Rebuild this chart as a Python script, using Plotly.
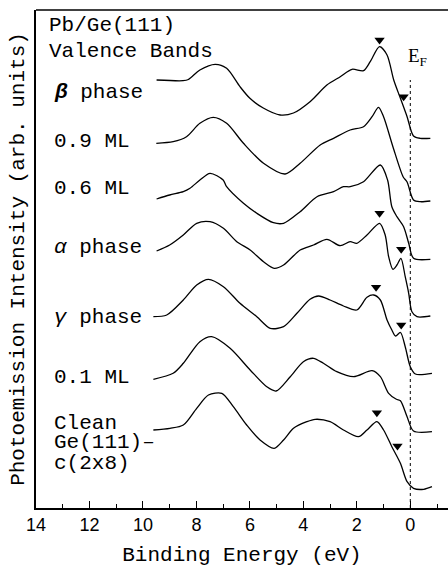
import plotly.graph_objects as go

# Binding energies (eV) and intensities (arb. units, offsets included)
e_beta = [9.49, 8.5, 8.3, 7.87, 7.3, 6.87, 6.37, 6.0, 5.5, 4.87, 4.37, 3.75, 3.12, 2.62, 2.18, 1.75, 1.5, 1.15, 0.87, 0.62, 0.37, 0.12, -0.12, -0.37, -0.75]
i_beta = [428, 427.3, 428.5, 438, 443.7, 439.7, 421.3, 409.7, 400, 393, 395, 406.3, 423, 431.3, 438.7, 437.3, 446.3, 461.3, 453, 428, 409.7, 391.3, 372, 369.7, 369.7]

e_09 = [9.5, 8.87, 8.37, 7.87, 7.37, 6.87, 6.24, 5.49, 4.68, 4.12, 3.37, 2.87, 2.25, 1.75, 1.43, 1.19, 1.0, 0.65, 0.27, 0.12, -0.12, -0.37, -0.75]
i_09 = [364.7, 366.3, 371.3, 384.7, 390.7, 384.7, 364.7, 344.7, 334, 344.7, 363, 369.7, 378, 381.3, 391.3, 400.7, 391.3, 361.3, 331.3, 326, 308, 306.3, 307]

e_06 = [9.49, 9.0, 8.49, 8.24, 7.87, 7.49, 7.0, 6.87, 6.24, 5.74, 5.12, 4.74, 4.12, 3.49, 2.87, 2.5, 2.25, 1.75, 1.12, 0.85, 0.69, 0.5, 0.25, 0.06, -0.12, -0.75]
i_06 = [309, 313, 316.3, 319.7, 328, 334.7, 328, 321.3, 304.7, 294.7, 285.3, 284.7, 296.3, 311.3, 316.3, 321.3, 321.3, 326.3, 343, 328, 301.3, 291.3, 281.3, 264.7, 249.7, 248.7]

e_alpha = [9.49, 9.0, 8.49, 7.99, 7.49, 6.99, 6.49, 5.99, 5.49, 5.09, 4.74, 4.12, 3.62, 3.12, 2.62, 2.25, 2.0, 1.62, 1.15, 0.94, 0.81, 0.65, 0.5, 0.35, 0.19, 0.06, -0.06, -0.25, -0.75]
i_alpha = [257, 263, 273, 284.7, 286.3, 279.7, 266.3, 258, 246.3, 239.7, 243, 258, 263, 268.7, 262.3, 266.3, 264.7, 273, 284.7, 273, 251.3, 238.7, 243, 249.7, 231.3, 214.7, 196.3, 191.3, 192]

e_gamma = [9.61, 9.11, 8.49, 7.99, 7.55, 6.99, 6.37, 5.74, 5.24, 4.74, 4.24, 3.75, 3.43, 3.0, 2.5, 2.0, 1.62, 1.37, 1.12, 0.87, 0.69, 0.55, 0.37, 0.19, 0.0, -0.19, -0.81]
i_gamma = [191.3, 193, 208, 223, 228.7, 221.3, 204.7, 191.3, 179.7, 181.3, 194.7, 208.7, 212, 208, 202, 198, 210.7, 213, 208, 188, 178, 172, 175.5, 161.3, 141.3, 134, 134.7]

e_01 = [9.61, 8.87, 8.49, 7.87, 7.43, 6.74, 5.99, 5.37, 5.02, 4.49, 4.0, 3.62, 3.25, 2.75, 2.12, 1.43, 1.12, 0.81, 0.52, 0.37, 0.12, -0.12, -0.81]
i_01 = [128.7, 134.7, 144.7, 166.3, 171.3, 159.7, 138, 121.3, 117, 131.3, 146.3, 149.7, 144.7, 136.3, 131.3, 137.3, 131.3, 114.7, 108.7, 107.3, 91.3, 77, 76.3]

e_clean = [9.61, 8.99, 8.49, 7.99, 7.55, 7.05, 6.62, 6.12, 5.62, 5.09, 4.74, 4.37, 3.87, 3.56, 3.0, 2.5, 1.94, 1.62, 1.25, 1.0, 0.69, 0.37, 0.12, -0.12, -0.5, -0.81]
i_clean = [78, 79.7, 83, 99.7, 113, 114.7, 101.3, 83, 68, 59.7, 68, 79.7, 86.3, 88.7, 86.3, 78, 71.3, 78, 86.3, 78, 61.3, 44.7, 26.3, 19.7, 18.7, 21.3]

# Feature markers (triangles)
tri_e = [1.15, 0.25, 1.15, 0.34, 1.28, 0.34, 1.25, 0.48]
tri_i = [468, 411.3, 294.7, 258.7, 220.7, 183, 95.3, 62]

x_ticks = [14, 12, 10, 8, 6, 4, 2, 0]

spectra = [(e_beta, i_beta), (e_09, i_09), (e_06, i_06), (e_alpha, i_alpha),
           (e_gamma, i_gamma), (e_01, i_01), (e_clean, i_clean)]

W, H = 448, 569
L, R, T, B = 36, 0, 10, 61
pw, ph = W - L - R, H - T - B

def px(x):
    return (x - L) / pw

def py(y):
    return (H - B - y) / ph

fig = go.Figure()
for e, i in spectra:
    fig.add_trace(go.Scatter(x=e, y=i, mode="lines",
                             line=dict(color="black", width=1.3, shape="spline", smoothing=0.8),
                             showlegend=False, hoverinfo="skip"))

fig.add_trace(go.Scatter(x=tri_e, y=tri_i, mode="markers",
                         marker=dict(symbol="triangle-down", size=9, color="black"),
                         showlegend=False, hoverinfo="skip"))

# E_F dotted line
fig.add_shape(type="line", xref="x", yref="y", x0=0, x1=0, y0=0, y1=428,
              line=dict(color="black", width=1, dash="dot"))

mono = "Liberation Mono"
fs = 21
labels = [
    ("Pb/Ge(111)", 47, 25),
    ("Valence Bands", 47, 51),
    ("<b><i>β</i></b> phase", 52, 92),
    ("0.9 ML", 52, 142),
    ("0.6 ML", 52, 188),
    ("<i>α</i> phase", 52, 247),
    ("<i>γ</i> phase", 52, 317),
    ("0.1 ML", 52, 377),
    ("Clean", 52, 423),
    ("Ge(111)–", 52, 443),
    ("c(2x8)", 52, 463),
]
annotations = []
for txt, x, y in labels:
    annotations.append(dict(text=txt, x=px(x), y=py(y), xref="paper", yref="paper",
                            xanchor="left", yanchor="middle", showarrow=False,
                            font=dict(family=mono, size=fs, color="black")))
annotations.append(dict(text="E<sub>F</sub>", x=px(406), y=py(57), xref="paper", yref="paper",
                        xanchor="left", yanchor="middle", showarrow=False,
                        font=dict(family="Liberation Serif", size=19, color="black")))

# top border line
fig.add_shape(type="line", xref="paper", yref="paper", x0=0, x1=1, y0=1, y1=1,
              line=dict(color="black", width=1.5))

fig.update_layout(
    width=W, height=H,
    margin=dict(l=L, r=R, t=T, b=B, pad=0),
    paper_bgcolor="white", plot_bgcolor="white",
    annotations=annotations,
    xaxis=dict(range=[14, -1.41], tickvals=x_ticks, ticktext=[str(v) for v in x_ticks],
               ticks="inside", ticklen=7, tickwidth=1.2, tickcolor="black",
               minor=dict(dtick=1, tick0=0, ticks="inside", ticklen=4, tickwidth=1.2, tickcolor="black"),
               showline=True, linecolor="black", linewidth=1.5, showgrid=False, zeroline=False,
               tickfont=dict(family="Liberation Sans", size=18, color="black"),
               title=dict(text="Binding Energy (eV)", standoff=12,
                          font=dict(family=mono, size=fs, color="black"))),
    yaxis=dict(range=[0, 498], showticklabels=False, ticks="", showline=True,
               linecolor="black", linewidth=1.5, showgrid=False, zeroline=False,
               title=dict(text="Photoemission Intensity (arb. units)", standoff=4,
                          font=dict(family=mono, size=fs, color="black"))),
)

fig.write_html("out.html")
